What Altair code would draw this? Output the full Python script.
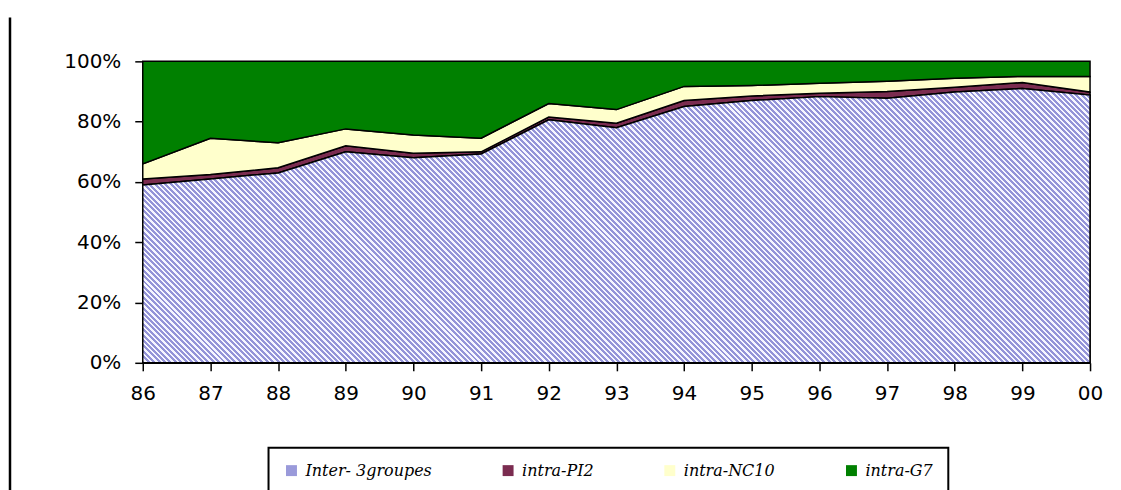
import altair as alt
import pandas as pd

# ---- data ----
years = ["86", "87", "88", "89", "90", "91", "92", "93", "94", "95", "96", "97", "98", "99", "00"]
series = ["Inter- 3groupes", "intra-PI2", "intra-NC10", "intra-G7"]
inter = [59.0, 61.0, 63.0, 70.0, 68.0, 69.3, 80.6, 78.0, 85.0, 87.0, 88.3, 87.8, 89.8, 91.0, 88.8]
pi2 = [2.0, 1.5, 1.7, 2.0, 1.5, 0.7, 0.9, 1.5, 2.0, 1.5, 1.1, 2.2, 1.6, 2.0, 1.0]
nc10 = [5.0, 12.0, 8.3, 5.6, 6.1, 4.5, 4.5, 4.5, 4.7, 3.5, 3.3, 3.4, 3.0, 2.0, 5.2]
g7 = [34.0, 25.5, 27.0, 22.4, 24.4, 25.5, 14.0, 16.0, 8.3, 8.0, 7.3, 6.6, 5.6, 5.0, 5.0]
y_ticks = [0, 20, 40, 60, 80, 100]

colors = ["#9a9ada", "#7b2c50", "#ffffcc", "#008000"]

rows = []
for i, yr in enumerate(years):
    for k, vals in enumerate([inter, pi2, nc10, g7]):
        rows.append({"year": yr, "serie": series[k], "value": vals[i], "ord": k})
df = pd.DataFrame(rows)
blue_df = pd.DataFrame({"year": years, "value": inter})

# ---- hatch fill (styling) as a striped linear gradient ----
W, H = 949.0, 302.0 * max(inter) / 100.0
s = (1 + H / W)  # extend so the gradient covers the bounding box
n_periods = int(round((W + H) / 5.0))
stripe_a, stripe_b = "#9494d8", "#f6f6ff"
frac = 0.55
stops = []
for p in range(n_periods):
    o0 = p / n_periods
    om = (p + frac) / n_periods
    o1 = (p + 1) / n_periods
    stops += [
        alt.GradientStop(offset=o0, color=stripe_a),
        alt.GradientStop(offset=om, color=stripe_a),
        alt.GradientStop(offset=om, color=stripe_b),
        alt.GradientStop(offset=o1, color=stripe_b),
    ]
hatch = alt.LinearGradient(gradient="linear", stops=stops,
                           x1=0, y1=1, x2=s, y2=1 - (H / W) * s)

x_enc = alt.X("year:O", sort=years, scale=alt.Scale(type="point", padding=0),
              axis=alt.Axis(title=None, labelAngle=0, labelPadding=13, tickSize=8,
                            labelFontSize=20, labelFont="DejaVu Sans", labelColor="black",
                            domainColor="black", domainWidth=1.5, tickColor="black",
                            tickWidth=1.5, grid=False))
y_scale = alt.Scale(domain=[0, 100], nice=False)

stack = alt.Chart(df).mark_area(stroke="black", strokeWidth=1.5).encode(
    x=x_enc,
    y=alt.Y("value:Q", stack=True, scale=y_scale,
            axis=alt.Axis(title=None, values=y_ticks, labelExpr="datum.value + '%'",
                          tickSize=8, labelPadding=14, labelFontSize=20,
                          labelFont="DejaVu Sans", labelColor="black",
                          domainColor="black", domainWidth=1.5, tickColor="black",
                          tickWidth=1.5, grid=False)),
    color=alt.Color("serie:N", scale=alt.Scale(domain=series, range=colors),
                    legend=alt.Legend(title=None, orient="none", legendX=126, legendY=387,
                                      direction="horizontal", symbolType="square",
                                      symbolSize=120, symbolStrokeWidth=0,
                                      labelFont="DejaVu Serif", labelFontStyle="italic",
                                      labelFontSize=16, labelColor="black",
                                      columnPadding=68, labelOffset=6, padding=15,
                                      strokeColor="black")),
    order=alt.Order("ord:Q"),
)

blue = alt.Chart(blue_df).mark_area(fill=hatch, stroke="black", strokeWidth=1.5).encode(
    x=alt.X("year:O", sort=years, scale=alt.Scale(type="point", padding=0)),
    y=alt.Y("value:Q", scale=y_scale),
)

frame = alt.Chart(pd.DataFrame({"a": [0]})).mark_rule(color="black", strokeWidth=2.5).encode(
    x=alt.value(-133), y=alt.value(-44), y2=alt.value(445)
)

chart = (stack + blue + frame).properties(
    width=949, height=302,
    padding={"left": 0, "top": 7, "right": 10, "bottom": 0},
).configure_view(stroke=None).configure_legend(strokeWidth=2)

chart.save("out.html", embed_options={"renderer": "svg", "actions": False})
